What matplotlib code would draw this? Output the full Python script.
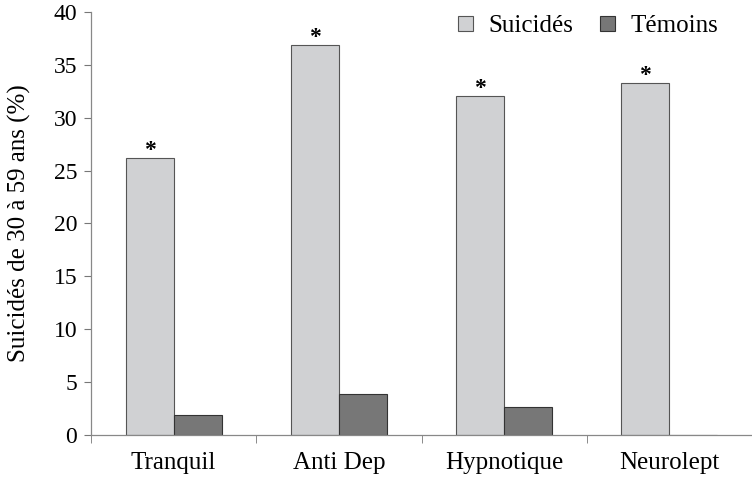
import numpy as np
import matplotlib.pyplot as plt
from matplotlib.ticker import FixedLocator

categories = ["Tranquil", "Anti Dep", "Hypnotique", "Neurolept"]
suicides = [26.2, 36.9, 32.1, 33.3]
temoins = [1.9, 3.9, 2.65, 0.0]
significant = [True, True, True, True]

plt.rcParams['font.family'] = ['Liberation Serif', 'DejaVu Serif']

fig = plt.figure(figsize=(7.52, 4.79), dpi=100)
ax = fig.add_axes([91 / 752, 44 / 479, 661 / 752, 423 / 479])

x = np.arange(len(categories))
w = 0.29
light = "#d0d1d3"
dark = "#777777"
edge = "#555555"

ax.bar(x - w / 2, suicides, w, color=light, edgecolor=edge, linewidth=0.8,
       label="Suicidés", zorder=2)
ax.bar(x + w / 2, temoins, w, color=dark, edgecolor="#333333", linewidth=0.8,
       label="Témoins", zorder=2)

for xi, v, s in zip(x, suicides, significant):
    if s:
        ax.text(xi - w / 2, v - 0.3, "*", ha="center", va="bottom",
                fontsize=17, fontweight="bold")

ax.set_xlim(-0.5, len(categories) - 0.5)
ax.set_ylim(0, 40)
ax.set_yticks(np.arange(0, 41, 5))
ax.set_xticks(x)
ax.set_xticklabels(categories, fontsize=18)
ax.xaxis.set_minor_locator(FixedLocator(np.arange(-0.5, len(categories), 1.0)))
ax.tick_params(axis="x", which="major", length=0, pad=12)
ax.tick_params(axis="x", which="minor", length=6, color="#777777", direction="out")
ax.tick_params(axis="y", length=5, color="#777777", labelsize=17, pad=5)

for side in ["top", "right"]:
    ax.spines[side].set_visible(False)
for side in ["left", "bottom"]:
    ax.spines[side].set_color("#888888")
    ax.spines[side].set_linewidth(0.9)

ax.set_ylabel("Suicidés de 30 à 59 ans (%)", fontsize=18, labelpad=16)

leg = fig.legend(loc="upper right", bbox_to_anchor=(0.985, 1.015), ncol=2,
                 frameon=False, fontsize=18, handlelength=0.6, handleheight=0.6,
                 handletextpad=0.6, columnspacing=1.1)

fig.savefig("out.png", dpi=100)
